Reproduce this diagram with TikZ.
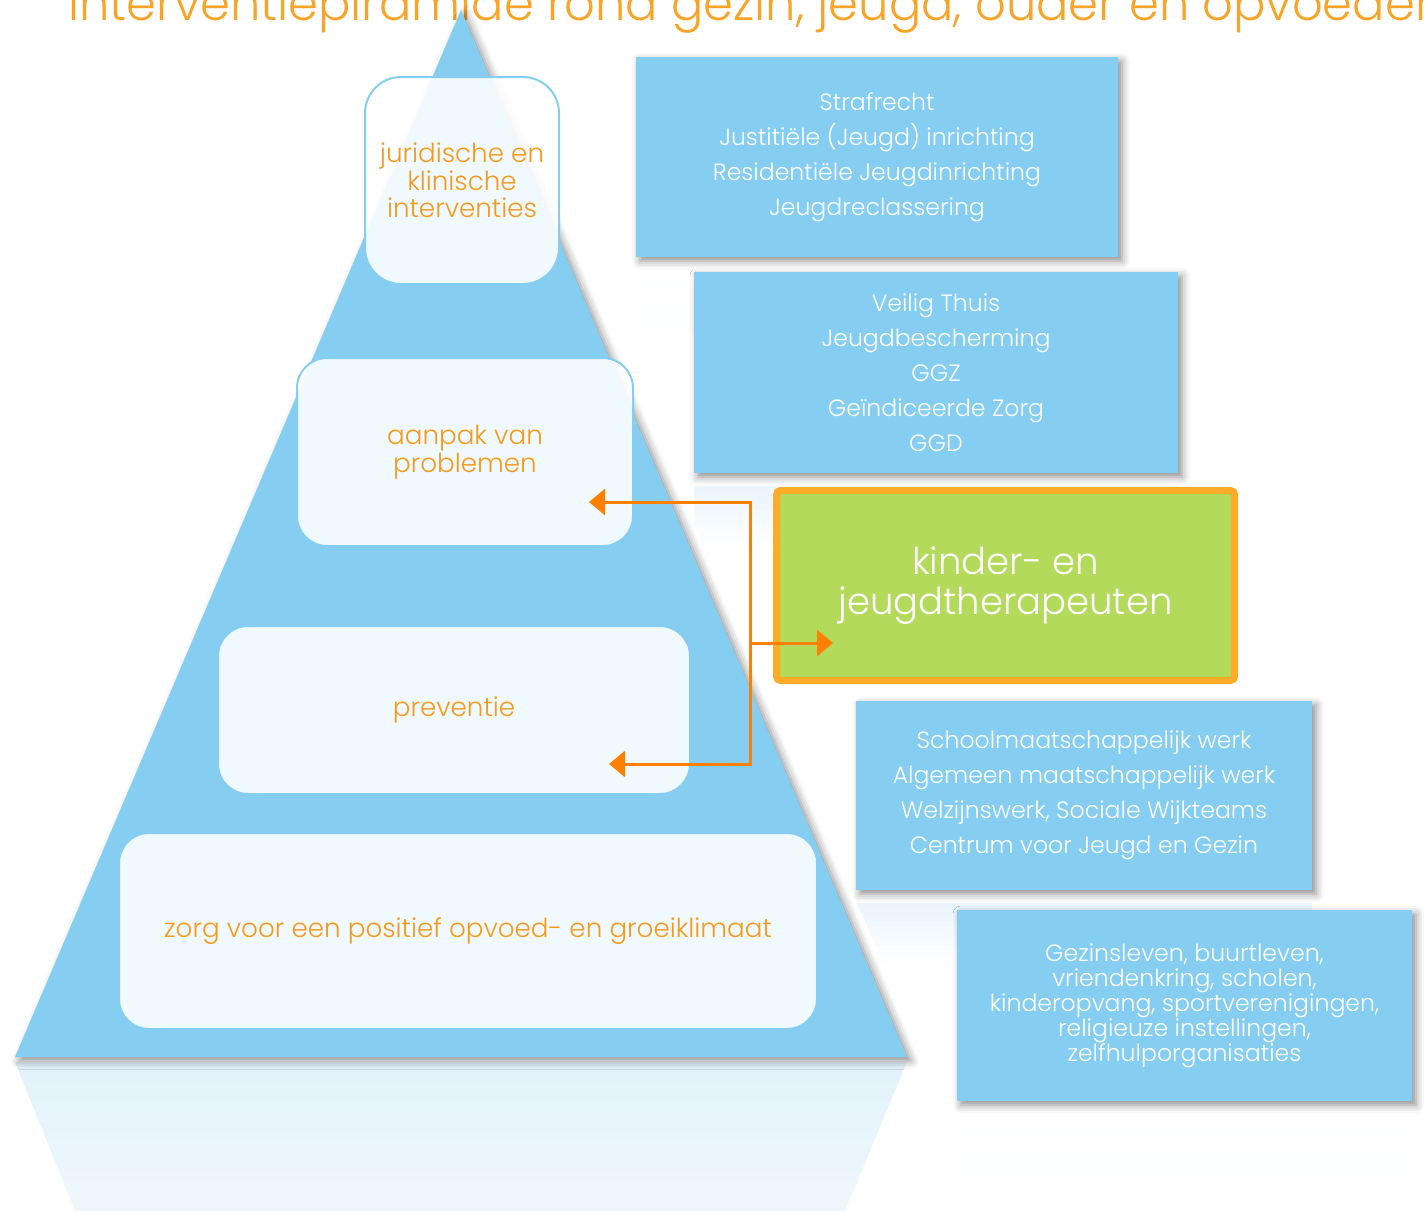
\documentclass[tikz,border=0pt]{standalone}
\usepackage{fontspec}
\setmainfont{Poppins}[UprightFont=* Light]
\usetikzlibrary{arrows.meta, positioning, shadows.blur}
\definecolor{pyrblue}{HTML}{86CEF1}
\definecolor{stageorange}{HTML}{F59A1C}
\definecolor{titleorange}{HTML}{F7A428}
\definecolor{kidgreen}{HTML}{B3DA5B}
\definecolor{kidborder}{HTML}{FDAC2A}
\definecolor{linkorange}{HTML}{FF7F00}
\definecolor{mirrorblue}{HTML}{E3F2FB}

\begin{document}
\begin{tikzpicture}[
    x=0.5pt, y=-0.5pt,
    softshadow/.style={blur shadow={shadow xshift=2pt, shadow yshift=-2pt, shadow blur radius=4pt, shadow opacity=45}},
    pyramid/.style={fill=pyrblue, softshadow},
    stage/.style={rectangle, rounded corners=15pt, draw=pyrblue, line width=1pt, fill=white, fill opacity=0.88, text opacity=1, text=stageorange, align=center, font=\fontsize{13.1}{13.8}\selectfont},
    info/.style={rectangle, fill=pyrblue, softshadow, text=white, align=center, font=\fontsize{11.8}{17.5}\selectfont},
    focus/.style={rectangle, rounded corners=2pt, fill=kidgreen, draw=kidborder, line width=3.5pt, text=white, align=center, font=\fontsize{18.5}{20}\selectfont},
    link/.style={draw=linkorange, line width=1.5pt, -{Triangle[length=8pt, width=13pt]}}
]
\useasboundingbox (0,0) rectangle (1425,1211);
\clip (0,0) rectangle (1425,1211);

% Title (cut off at the top)
\node[anchor=base west, inner sep=0, text=titleorange, font=\fontsize{24}{24}\selectfont] (titel) at (68,20) {Interventiepiramide rond gezin, jeugd, ouder en opvoeder};

% Reflections
\begin{scope}
  \clip (15,1062) -- (907,1062) -- (845,1211) -- (75,1211) -- cycle;
  \foreach \i [evaluate=\i as \pct using 100-3*\i] in {0,...,15}
    \fill[mirrorblue!\pct!white] (0,1062+10*\i) rectangle (1425,1073+10*\i);
\end{scope}
\foreach \a/\b/\c in {636/1118/270, 957/1412/1114}
  \foreach \i [evaluate=\i as \pct using 75-8*\i] in {0,...,9}
    \fill[mirrorblue!\pct!white] (\a,\c+6*\i) rectangle (\b,\c+7+6*\i);
\begin{scope}
  \clip (694,486) -- (1178,486) -- (1178,545) -- (704,545) -- (694,524) -- cycle;
  \foreach \i [evaluate=\i as \pct using 75-8*\i] in {0,...,9}
    \fill[mirrorblue!\pct!white] (694,486+6*\i) rectangle (1178,493+6*\i);
\end{scope}
\begin{scope}
  \clip (857,903) -- (1312,903) -- (1312,965) -- (884,965) -- cycle;
  \foreach \i [evaluate=\i as \pct using 75-8*\i] in {0,...,9}
    \fill[mirrorblue!\pct!white] (856,903+6*\i) rectangle (1312,910+6*\i);
\end{scope}

% Pyramid
\fill[pyramid] (15,1057) -- (461,10) -- (907,1057) -- cycle;

% Stages
\node[stage, minimum width=97pt, minimum height=103.5pt, rounded corners=18pt] (juridisch) at (462,180.5) {juridische en\\klinische\\interventies};
\node[stage, minimum width=168pt, minimum height=94pt] (aanpak) at (465,452) {aanpak van\\problemen};
\node[stage, minimum width=236pt, minimum height=84pt] (preventie) at (454,710) {preventie};
\node[stage, minimum width=349pt, minimum height=98pt] (klimaat) at (468,931) {zorg voor een positief opvoed- en groeiklimaat};

% Services
\node[info, minimum width=241pt, minimum height=100pt] (strafrecht) at (877,157) {Strafrecht\\Justitiële (Jeugd) inrichting\\Residentiële Jeugdinrichting\\Jeugdreclassering};
\node[info, minimum width=242pt, minimum height=100.5pt] (veilig) at (936,372.5) {Veilig Thuis\\Jeugdbescherming\\GGZ\\Geïndiceerde Zorg\\GGD};
\node[focus, minimum width=229pt, minimum height=95pt] (therapeut) at (1005.5,585.5) {kinder- en\\jeugdtherapeuten};
\node[info, minimum width=228pt, minimum height=94.5pt] (school) at (1084,795.5) {Schoolmaatschappelijk werk\\Algemeen maatschappelijk werk\\Welzijnswerk, Sociale Wijkteams\\Centrum voor Jeugd en Gezin};
\node[info, minimum width=227.5pt, minimum height=95.5pt, font=\fontsize{11.8}{12.5}\selectfont] (gezin) at (1184.5,1005.5) {Gezinsleven, buurtleven,\\vriendenkring, scholen,\\kinderopvang, sportverenigingen,\\religieuze instellingen,\\zelfhulporganisaties};

% Links
\coordinate (hub) at (750,643);
\coordinate (aanpakpunt) at ([shift={(-45,50)}]aanpak.east);
\coordinate (preventiepunt) at ([shift={(-82,54)}]preventie.east);
\coordinate (therapeutpunt) at ([shift={(60,57.5)}]therapeut.west);
\draw[link] (hub) |- (aanpakpunt);
\draw[link] (hub) |- (preventiepunt);
\draw[link] (hub) -- (therapeutpunt);

\end{tikzpicture}
\end{document}
